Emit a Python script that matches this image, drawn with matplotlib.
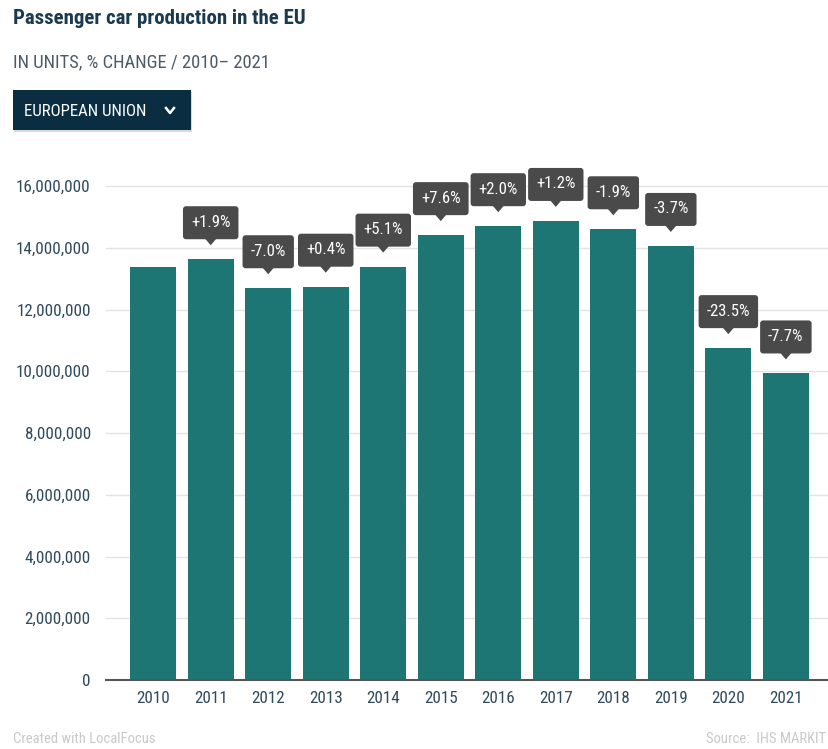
import matplotlib
matplotlib.use("Agg")
import matplotlib.pyplot as plt
from matplotlib import font_manager
from matplotlib.patches import FancyBboxPatch, Polygon
from matplotlib.ticker import FuncFormatter
import matplotlib.transforms as mtransforms

years = ["2010", "2011", "2012", "2013", "2014", "2015",
         "2016", "2017", "2018", "2019", "2020", "2021"]
units = [13380000, 13630000, 12690000, 12740000, 13390000, 14410000,
         14700000, 14870000, 14600000, 14060000, 10750000, 9930000]
changes = ["", "+1.9%", "-7.0%", "+0.4%", "+5.1%", "+7.6%",
           "+2.0%", "+1.2%", "-1.9%", "-3.7%", "-23.5%", "-7.7%"]
y_ticks = [0, 2000000, 4000000, 6000000, 8000000, 10000000,
           12000000, 14000000, 16000000]


def pick_font(names):
    avail = {f.name for f in font_manager.fontManager.ttflist}
    for n in names:
        if n in avail:
            return n
    return "DejaVu Sans"


font = pick_font(["Roboto Condensed", "Liberation Sans Narrow", "Roboto"])
plt.rcParams["font.family"] = [font, "DejaVu Sans"]

navy = "#1b3a4f"
tick_col = "#2f4a5c"
bar_col = "#1d7574"
box_col = "#4a4a4a"

fig = plt.figure(figsize=(8.29, 7.49), dpi=100)
ax = fig.add_axes([0.1279, 0.0921, 0.8721, 0.6801])

x = list(range(len(years)))
ax.bar(x, units, width=0.8, color=bar_col, zorder=2)
ax.set_xlim(-0.82, 11.75)
ax.set_ylim(0, 16500000)
ax.set_yticks(y_ticks)
ax.yaxis.set_major_formatter(FuncFormatter(lambda v, p: "{:,.0f}".format(v)))
ax.set_xticks(x)
ax.set_xticklabels(years)
ax.grid(axis="y", color="#e3e3e3", linewidth=1, zorder=0)
for s in ["top", "right", "left"]:
    ax.spines[s].set_visible(False)
ax.spines["bottom"].set_color("#555555")
ax.spines["bottom"].set_linewidth(1.5)
ax.spines["bottom"].set_zorder(3)
ax.tick_params(axis="both", length=0, labelsize=12.3, labelcolor=tick_col)
ax.tick_params(axis="y", pad=11)
ax.tick_params(axis="x", pad=8)

# percentage change labels above bars (sizes in pixels, dpi 100)
renderer = fig.canvas.get_renderer()
for i, (v, c) in enumerate(zip(units, changes)):
    if not c:
        continue
    tr = mtransforms.Affine2D() + mtransforms.ScaledTranslation(i, v, ax.transData)
    t = ax.text(0, 37, c, transform=tr, ha="center", va="center", color="white",
                fontsize=12, zorder=6, clip_on=False)
    w = t.get_window_extent(renderer).width + 16
    box = FancyBboxPatch((-w / 2, 20), w, 33, boxstyle="round,pad=0,rounding_size=3",
                         transform=tr, fc=box_col, ec="none", zorder=5, clip_on=False)
    ax.add_patch(box)
    tri = Polygon([(-6, 21), (6, 21), (0, 14)], closed=True, transform=tr,
                  fc=box_col, ec="none", zorder=5, clip_on=False)
    ax.add_patch(tri)

# header
fig.text(13 / 829, 1 - 18 / 749, "Passenger car production in the EU", fontsize=15,
         fontweight="bold", color=navy, ha="left", va="center")
fig.text(13 / 829, 1 - 62 / 749, "IN UNITS, % CHANGE / 2010\u2013 2021", fontsize=13.3,
         color="#4b5b68", ha="left", va="center")

# dropdown button
shadow = FancyBboxPatch((14 / 829, 1 - 132 / 749), 178 / 829, 40 / 749,
                        boxstyle="square,pad=0", transform=fig.transFigure,
                        fc="#000000", ec="none", alpha=0.15, zorder=1)
fig.patches.append(shadow)
btn = FancyBboxPatch((13 / 829, 1 - 130 / 749), 178 / 829, 40 / 749,
                     boxstyle="square,pad=0", transform=fig.transFigure,
                     fc="#0b2d42", ec="none", zorder=2)
fig.patches.append(btn)
fig.text(24 / 829, 1 - 111 / 749, "EUROPEAN UNION", fontsize=12.2, color="white",
         ha="left", va="center", zorder=3)
fig.lines.append(plt.Line2D([166 / 829, 170 / 829, 174 / 829],
                            [1 - 108 / 749, 1 - 113 / 749, 1 - 108 / 749],
                            transform=fig.transFigure, color="white", linewidth=1.8,
                            zorder=3))

# footer
fig.text(13 / 829, 1 - 739 / 749, "Created with LocalFocus", fontsize=10.5,
         color="#c9c9c9", ha="left", va="center")
fig.text(826 / 829, 1 - 739 / 749, "Source:  IHS MARKIT", fontsize=10.5,
         color="#c9c9c9", ha="right", va="center")

fig.savefig("out.png", dpi=100)
